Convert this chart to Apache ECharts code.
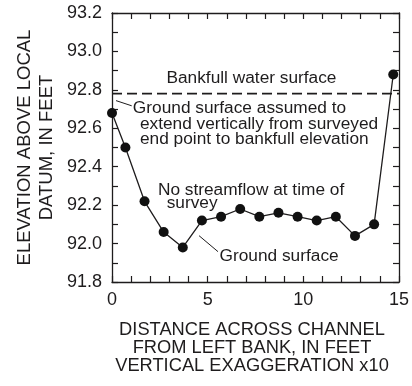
<!DOCTYPE html>
<html>
<head>
<meta charset="utf-8">
<script src="https://cdn.jsdelivr.net/npm/echarts@6/dist/echarts.min.js"></script>
<style>
  html, body { margin: 0; padding: 0; background: #fff; }
  #chart { width: 412px; height: 386px; }
</style>
</head>
<body>
<div id="chart"></div>
<script>
// Surveyed cross-section: distance from left bank (ft) and ground elevation (ft)
const distance = [0, 0.7, 1.7, 2.7, 3.7, 4.7, 5.7, 6.7, 7.7, 8.7, 9.7, 10.7, 11.7, 12.7, 13.7, 14.7];
const elevation = [92.68, 92.50, 92.22, 92.06, 91.98, 92.12, 92.14, 92.18, 92.14, 92.16, 92.14, 92.12, 92.14, 92.04, 92.10, 92.88];

// Bankfull water surface elevation, drawn across the full channel width
const bankfullX = [0, 15];
const bankfullElevation = 92.78;

// Axis extents and ticks
const xRange = [0, 15];
const xStep = 5;
const yRange = [91.8, 93.2];
const yStep = 0.2;

// Annotation text and leader lines, placed in data units [x, y]
const notes = [
  { text: 'Bankfull water surface', at: [7.29, 92.862], align: 'center' },
  { text: 'Ground surface assumed to', at: [1.09, 92.706], align: 'left' },
  { text: 'extend vertically from surveyed', at: [1.46, 92.623], align: 'left' },
  { text: 'end point to bankfull elevation', at: [1.46, 92.545], align: 'left' },
  { text: 'No streamflow at time of', at: [2.40, 92.279], align: 'left' },
  { text: 'survey', at: [2.86, 92.211], align: 'left' },
  { text: 'Ground surface', at: [5.62, 91.935], align: 'left' }
];
const leaders = [
  [[0.21, 92.744], [1.03, 92.717]],
  [[4.55, 92.041], [5.54, 91.958]]
];

const FONT = 'Liberation Sans, Arial, Helvetica, sans-serif';
const INK = '#1e1c1d';

const chart = echarts.init(document.getElementById('chart'), null, { renderer: 'canvas' });

function xAxisDef(pos, showLabels) {
  return {
    type: 'value', position: pos, min: xRange[0], max: xRange[1], interval: xStep,
    axisLine: { show: true, onZero: false, lineStyle: { color: INK, width: 1.3 } },
    axisTick: { show: true, inside: true, length: 6, lineStyle: { color: INK, width: 1.2 } },
    minorTick: { show: true, splitNumber: 5, length: 6, lineStyle: { color: INK, width: 1.2 } },
    splitLine: { show: false },
    axisLabel: { show: showLabels, margin: 9, color: INK, fontSize: 18, fontFamily: FONT }
  };
}
function yAxisDef(pos, showLabels) {
  return {
    type: 'value', position: pos, min: yRange[0], max: yRange[1], interval: yStep,
    axisLine: { show: true, onZero: false, lineStyle: { color: INK, width: 1.3 } },
    axisTick: { show: true, inside: true, length: 6, lineStyle: { color: INK, width: 1.2 } },
    minorTick: { show: true, splitNumber: 2, length: 6, lineStyle: { color: INK, width: 1.2 } },
    splitLine: { show: false },
    axisLabel: {
      show: showLabels, margin: 10, color: INK, fontSize: 18, fontFamily: FONT,
      formatter: v => v.toFixed(1)
    }
  };
}

chart.setOption({
  animation: false,
  backgroundColor: '#fff',
  grid: { left: 112, right: 12, top: 13, bottom: 104, containLabel: false },
  xAxis: [xAxisDef('bottom', true), xAxisDef('top', false)],
  yAxis: [yAxisDef('left', true), yAxisDef('right', false)],
  series: [
    {
      name: 'Bankfull water surface',
      type: 'line',
      data: bankfullX.map(x => [x, bankfullElevation]),
      symbol: 'none',
      lineStyle: { color: INK, width: 1.8, type: [10, 5] },
      z: 2
    },
    {
      name: 'Ground surface',
      type: 'line',
      data: distance.map((d, i) => [d, elevation[i]]),
      symbol: 'circle',
      symbolSize: 10,
      itemStyle: { color: '#111' },
      lineStyle: { color: INK, width: 1.3 },
      z: 3
    }
  ]
});

function buildGraphics() {
  const els = [];
  notes.forEach(n => {
    const p = chart.convertToPixel({ gridIndex: 0 }, n.at);
    els.push({
      type: 'text', x: p[0], y: p[1],
      style: { text: n.text, fill: INK, font: '17.3px ' + FONT, textAlign: n.align, textVerticalAlign: 'middle' }
    });
  });
  leaders.forEach(seg => {
    const a = chart.convertToPixel({ gridIndex: 0 }, seg[0]);
    const b = chart.convertToPixel({ gridIndex: 0 }, seg[1]);
    els.push({
      type: 'line', shape: { x1: a[0], y1: a[1], x2: b[0], y2: b[1] },
      style: { stroke: INK, lineWidth: 1 }
    });
  });
  // Axis titles
  els.push({
    type: 'text', x: 36, y: 147.5, rotation: Math.PI / 2,
    style: {
      text: 'ELEVATION ABOVE LOCAL\nDATUM, IN FEET', fill: INK, font: '18.5px ' + FONT,
      textAlign: 'center', textVerticalAlign: 'middle', lineHeight: 22
    }
  });
  els.push({
    type: 'text', x: 252, y: 348,
    style: {
      text: 'DISTANCE ACROSS CHANNEL\nFROM LEFT BANK, IN FEET\nVERTICAL EXAGGERATION x10',
      fill: INK, font: '18.3px ' + FONT, textAlign: 'center', textVerticalAlign: 'middle', lineHeight: 18
    }
  });
  chart.setOption({ graphic: els });
}
buildGraphics();
</script>
</body>
</html>
